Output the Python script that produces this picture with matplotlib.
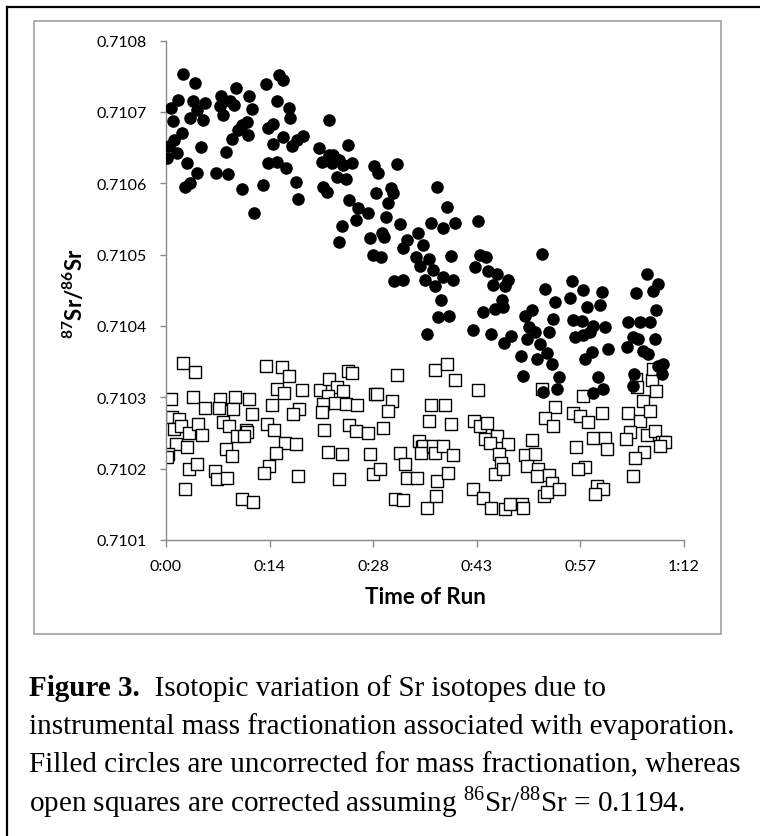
import matplotlib
matplotlib.use("Agg")
import matplotlib.pyplot as plt
from matplotlib.patches import Rectangle
from matplotlib.lines import Line2D
from matplotlib.ticker import FixedLocator, FuncFormatter

plt.rcParams['font.family'] = ['Lato', 'DejaVu Sans']
plt.rcParams['mathtext.fontset'] = 'custom'
plt.rcParams['mathtext.rm'] = 'Liberation Serif'
plt.rcParams['mathtext.bf'] = 'Lato:bold'

# uncorrected run (filled circles): time in minutes, 87Sr/86Sr
raw_time = [
    2.32, 4.03, 0.70, 1.72, 3.71, 5.42, 0.93, 0.09, 0.46, 1.11, 2.18, 1.48, 2.87, 2.64, 3.34, 4.36,
    4.82, 3.34, 4.36, 5.10, 7.65, 7.51, 7.97, 8.90, 9.50, 9.68, 6.95, 8.57, 8.34, 9.13, 10.05, 10.52,
    11.21, 11.44, 11.58, 11.91, 10.52, 12.23, 13.53, 13.90, 15.75, 16.22, 15.47, 17.14, 17.24, 14.13,
    14.83, 14.92, 14.22, 15.38, 16.31, 16.68, 17.47, 18.16, 18.99, 18.02, 18.30, 21.31, 22.70, 21.64,
    22.70, 23.26, 23.02, 24.09, 24.65, 25.34, 25.90, 23.72, 25.02, 21.77, 22.42, 25.48, 26.73, 26.41,
    24.42, 24.09,
    28.92, 29.52, 32.16, 31.23, 31.51, 29.19, 30.91, 30.58, 28.13, 37.63, 39.02, 36.79, 38.55, 40.17,
    43.42, 32.53, 28.36, 29.98, 30.31, 35.08, 33.46, 32.99, 35.68, 28.73, 29.84, 34.75, 36.61, 35.31,
    37.07, 39.57, 43.65, 44.48, 42.95, 44.81, 45.96, 47.59, 45.50, 47.12, 52.22, 31.70, 32.90, 36.00,
    37.39, 38.46, 39.85, 38.18, 37.86, 39.39, 36.24, 42.63, 44.02, 45.73, 46.66, 46.80, 45.13, 47.91,
    46.98, 49.90, 50.83, 50.50, 51.29, 50.13, 51.99, 52.68, 54.07, 53.84, 53.29,
    49.30, 51.53, 52.92, 53.61, 49.67, 54.67, 54.40, 52.36,
    56.39, 58.01, 60.56, 56.16, 66.81, 68.44, 67.65, 65.33, 60.33, 58.47, 56.62, 57.78, 59.40, 61.02,
    56.85, 57.92, 58.94, 64.27, 65.89, 67.28, 68.11, 64.96, 64.03, 65.66, 67.97, 66.26, 67.05, 58.24,
    59.17, 61.49, 60.10, 60.79, 59.40, 65.05, 64.87, 69.13, 68.90, 68.44,
]
raw_ratio = [
    0.710753, 0.710740, 0.710705, 0.710717, 0.710715, 0.710712, 0.710687, 0.710636, 0.710652, 0.710661,
    0.710670, 0.710642, 0.710629, 0.710595, 0.710601, 0.710615, 0.710651, 0.710691, 0.710703, 0.710689,
    0.710722, 0.710708, 0.710696, 0.710715, 0.710710, 0.710734, 0.710614, 0.710613, 0.710644, 0.710662,
    0.710675, 0.710682, 0.710686, 0.710667, 0.710722, 0.710704, 0.710592, 0.710558, 0.710597, 0.710739,
    0.710752, 0.710744, 0.710715, 0.710705, 0.710692, 0.710677, 0.710683, 0.710655, 0.710629, 0.710630,
    0.710665, 0.710621, 0.710652, 0.710661, 0.710666, 0.710602, 0.710578, 0.710650, 0.710688, 0.710630,
    0.710640, 0.710640, 0.710628, 0.710633, 0.710626, 0.710654, 0.710629, 0.710609, 0.710606, 0.710595,
    0.710587, 0.710577, 0.710565, 0.710549, 0.710540, 0.710518,
    0.710624, 0.710614, 0.710627, 0.710593, 0.710586, 0.710586, 0.710572, 0.710553, 0.710558, 0.710594,
    0.710566, 0.710544, 0.710537, 0.710544, 0.710547, 0.710543, 0.710523, 0.710530, 0.710524, 0.710530,
    0.710521, 0.710509, 0.710513, 0.710499, 0.710496, 0.710496, 0.710494, 0.710484, 0.710479, 0.710498,
    0.710499, 0.710497, 0.710482, 0.710477, 0.710473, 0.710465, 0.710458, 0.710456, 0.710501, 0.710463,
    0.710464, 0.710465, 0.710456, 0.710468, 0.710464, 0.710437, 0.710412, 0.710414, 0.710388, 0.710394,
    0.710420, 0.710424, 0.710437, 0.710427, 0.710388, 0.710386, 0.710376, 0.710414, 0.710423, 0.710398,
    0.710391, 0.710381, 0.710374, 0.710452, 0.710434, 0.710410, 0.710391,
    0.710358, 0.710353, 0.710362, 0.710346, 0.710330, 0.710329, 0.710312, 0.710307,
    0.710463, 0.710451, 0.710447, 0.710439, 0.710473, 0.710459, 0.710449, 0.710446, 0.710429, 0.710426,
    0.710409, 0.710407, 0.710400, 0.710399, 0.710384, 0.710387, 0.710391, 0.710405, 0.710405, 0.710405,
    0.710423, 0.710384, 0.710370, 0.710382, 0.710382, 0.710365, 0.710360, 0.710354, 0.710363, 0.710368,
    0.710328, 0.710312, 0.710306, 0.710332, 0.710316, 0.710346, 0.710332, 0.710344,
]

# corrected with 86Sr/88Sr = 0.1194 (open squares)
corr_time = [
    0.65, 2.32, 4.03, 3.71, 5.42, 0.79, 1.85, 1.16, 2.04, 3.24, 4.49, 4.96, 1.39, 2.87, 0.32, 0.09,
    3.24, 4.26, 2.64, 7.51, 7.41, 9.59, 9.36, 11.58, 11.91, 7.88, 8.80, 9.91, 11.12, 11.30, 10.84, 8.34,
    9.13, 6.81, 7.13, 8.52, 10.52, 12.14, 13.90, 16.08, 17.14, 15.38, 16.40, 18.86, 14.69, 18.53, 17.70,
    14.08, 15.01, 16.54, 18.07, 15.29, 14.36, 13.62, 18.39, 21.40, 22.70, 23.72, 22.56, 24.65, 25.34,
    25.81, 21.77, 21.64, 23.49, 25.02, 26.59, 25.48, 26.41, 28.12, 21.96, 22.56, 24.42, 24.09, 28.35,
    28.82, 29.74, 29.05, 29.37, 31.37, 30.90, 30.21, 32.15, 32.52, 33.22, 33.45, 34.84, 31.83, 32.89,
    36.23, 36.79, 36.51, 35.21, 35.53, 35.76, 35.40, 37.06, 37.39, 37.71, 37.52, 37.39,
    39.02, 40.17, 38.78, 39.25, 38.46, 39.85, 39.57, 43.42, 42.82, 43.65, 44.58, 44.34, 45.97, 45.04,
    47.59, 46.34, 46.52, 45.73, 46.89, 42.63, 44.02, 45.13, 47.12, 47.82, 49.44, 49.67, 50.83, 49.90,
    51.29, 50.23, 51.76, 51.53, 53.29, 53.61, 52.55, 52.92, 54.67, 52.22, 54.07, 52.69, 53.84, 58.01,
    56.62, 57.55, 58.71, 60.56, 56.99, 59.31, 61.02, 61.35, 58.24, 57.32, 59.87, 60.79, 59.63, 65.33,
    67.51, 68.11, 66.26, 64.27, 65.89, 67.28, 64.50, 63.94, 66.81, 67.97, 68.90, 69.36, 68.67, 66.49,
    65.19, 64.87, 67.65, 65.52,
]
corr_ratio = [
    0.710297, 0.710348, 0.710335, 0.710301, 0.710285, 0.710273, 0.710269, 0.710256, 0.710260, 0.710250,
    0.710262, 0.710247, 0.710234, 0.710231, 0.710220, 0.710217, 0.710199, 0.710206, 0.710171, 0.710298,
    0.710285, 0.710301, 0.710283, 0.710297, 0.710276, 0.710265, 0.710260, 0.710246, 0.710254, 0.710251,
    0.710246, 0.710227, 0.710218, 0.710197, 0.710185, 0.710187, 0.710158, 0.710153, 0.710344, 0.710343,
    0.710330, 0.710312, 0.710306, 0.710310, 0.710289, 0.710284, 0.710276, 0.710263, 0.710254, 0.710236,
    0.710234, 0.710222, 0.710204, 0.710194, 0.710189, 0.710310, 0.710325, 0.710315, 0.710302, 0.710309,
    0.710337, 0.710334, 0.710290, 0.710279, 0.710292, 0.710290, 0.710289, 0.710261, 0.710253, 0.710250,
    0.710254, 0.710223, 0.710220, 0.710186, 0.710220, 0.710193, 0.710199, 0.710304, 0.710304, 0.710295,
    0.710281, 0.710257, 0.710331, 0.710222, 0.710206, 0.710187, 0.710187, 0.710158, 0.710156, 0.710145,
    0.710289, 0.710267, 0.710239, 0.710230, 0.710232, 0.710222, 0.710232, 0.710338, 0.710183, 0.710162,
    0.710222,
    0.710346, 0.710324, 0.710289, 0.710194, 0.710232, 0.710219, 0.710263, 0.710310, 0.710267, 0.710260,
    0.710264, 0.710241, 0.710246, 0.710236, 0.710235, 0.710221, 0.710208, 0.710192, 0.710200, 0.710171,
    0.710159, 0.710145, 0.710143, 0.710151, 0.710151, 0.710145, 0.710240, 0.710219, 0.710221, 0.710204,
    0.710200, 0.710190, 0.710191, 0.710180, 0.710161, 0.710167, 0.710172, 0.710311, 0.710287, 0.710271,
    0.710260, 0.710302, 0.710278, 0.710274, 0.710265, 0.710278, 0.710231, 0.710243, 0.710243, 0.710227,
    0.710203, 0.710200, 0.710175, 0.710172, 0.710164, 0.710325, 0.710324, 0.710309, 0.710295, 0.710278,
    0.710267, 0.710281, 0.710251, 0.710242, 0.710247, 0.710253, 0.710237, 0.710237, 0.710232, 0.710223,
    0.710215, 0.710189, 0.710339, 0.710315,
]

x_ticks = [0, 14.4, 28.8, 43.2, 57.6, 72]
y_ticks = [0.7101, 0.7102, 0.7103, 0.7104, 0.7105, 0.7106, 0.7107, 0.7108]

W, H = 760, 837
fig = plt.figure(figsize=(W / 100, H / 100), dpi=100)

# outer frame and chart area box
fig.add_artist(Line2D([7 / W, 7 / W], [-0.1, 1 - 8 / H], color='black', lw=1.6))
fig.add_artist(Line2D([7 / W, 1.1], [1 - 8 / H, 1 - 8 / H], color='black', lw=1.6))
fig.add_artist(Rectangle((34 / W, 1 - 635 / H), (721 - 34) / W, (635 - 22) / H,
                         transform=fig.transFigure, fill=False, ec='#999999', lw=1.1))

ax = fig.add_axes([166 / W, 1 - 541 / H, 518 / W, 499.5 / H])
ax.scatter(corr_time, corr_ratio, marker='s', s=78, facecolor='white', edgecolor='black',
           linewidths=1.0, zorder=2)
ax.scatter(raw_time, raw_ratio, marker='o', s=82, color='black', linewidths=0, zorder=3)

ax.set_xlim(0, 72)
ax.set_ylim(0.7101, 0.7108)
ax.xaxis.set_major_locator(FixedLocator(x_ticks))
ax.xaxis.set_major_formatter(FuncFormatter(lambda m, p: f"{int(m // 60)}:{int(m % 60):02d}"))
ax.yaxis.set_major_locator(FixedLocator(y_ticks))
ax.yaxis.set_major_formatter(FuncFormatter(lambda v, p: f"{v:.4f}"))

for side in ['top', 'right']:
    ax.spines[side].set_visible(False)
for side in ['left', 'bottom']:
    ax.spines[side].set_color('#8a8a8a')
    ax.spines[side].set_linewidth(1.0)
ax.tick_params(axis='both', colors='#8a8a8a', labelcolor='black', labelsize=11.5, width=1.0)
ax.tick_params(axis='x', length=5, pad=9)
ax.tick_params(axis='y', length=4, pad=10)

ax.set_xlabel('Time of Run', fontsize=16, fontweight='bold', labelpad=9)
fig.text(74 / W, 1 - 293 / H, r'$\mathbf{^{87}Sr/^{86}Sr}$', rotation=90,
         ha='center', va='center', fontsize=16)

# caption
cap = dict(family='Liberation Serif', fontsize=21, va='baseline', ha='left')
t1 = fig.text(29 / W, 1 - 696 / H, 'Figure 3.', fontweight='bold', **cap)
ax.annotate('  Isotopic variation of Sr isotopes due to', xy=(1, 0), xycoords=t1,
            va='bottom', ha='left', family='Liberation Serif', fontsize=21)
fig.text(29 / W, 1 - 734 / H, 'instrumental mass fractionation associated with evaporation.', **cap)
fig.text(29 / W, 1 - 772 / H, 'Filled circles are uncorrected for mass fractionation, whereas', **cap)
fig.text(29 / W, 1 - 811 / H, r'open squares are corrected assuming $^{86}$Sr/$^{88}$Sr = 0.1194.', **cap)

fig.savefig('out.png', dpi=100)
